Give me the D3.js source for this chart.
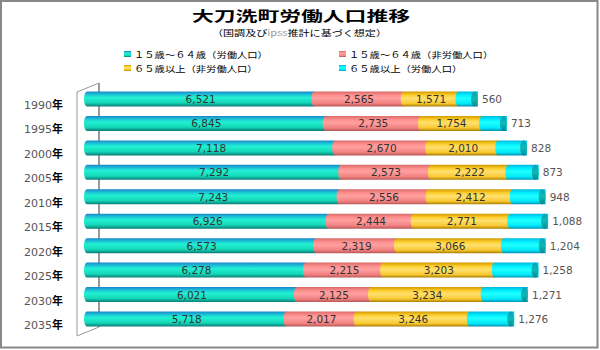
<!DOCTYPE html>
<html><head><meta charset="utf-8">
<script src="https://cdn.jsdelivr.net/npm/d3@7"></script>
<style>body{margin:0;background:#fff}svg{display:block}</style>
</head><body>
<svg id="c" width="600" height="350"></svg>
<script>
const years = ["1990","1995","2000","2005","2010","2015","2020","2025","2030","2035"];
const seriesNames = ["１５歳～６４歳（労働人口）","１５歳～６４歳（非労働人口）","６５歳以上（非労働人口）","６５歳以上（労働人口）"];
const work1564 = [6521,6845,7118,7292,7243,6926,6573,6278,6021,5718];
const nonWork1564 = [2565,2735,2670,2573,2556,2444,2319,2215,2125,2017];
const nonWork65 = [1571,1754,2010,2222,2412,2771,3066,3203,3234,3246];
const work65 = [560,713,828,873,948,1088,1204,1258,1271,1276];
const seriesValues = [work1564, nonWork1564, nonWork65, work65];

const svg = d3.select("#c");
const defs = svg.append("defs");
const grads = [
  [["0","#1b86c9"],["0.22","#1cc8d8"],["0.4","#22f0d2"],["0.75","#14d8b8"],["1","#0a7c78"]],
  [["0","#d86a6a"],["0.25","#ff9090"],["0.45","#ffa0a0"],["0.8","#f08080"],["1","#b85858"]],
  [["0","#d09a00"],["0.25","#ffd030"],["0.45","#ffe070"],["0.8","#f8c830"],["1","#a87c00"]],
  [["0","#00b8e0"],["0.25","#00f0ff"],["0.45","#20ffff"],["0.8","#00e8f8"],["1","#0090b8"]]
];
grads.forEach((g,i)=>{
  const lg = defs.append("linearGradient").attr("id","g"+i).attr("x1",0).attr("y1",0).attr("x2",0).attr("y2",1);
  g.forEach(s=>lg.append("stop").attr("offset",s[0]).attr("stop-color",s[1]));
});
const capG = defs.append("linearGradient").attr("id","cap").attr("x1",0).attr("y1",0).attr("x2",0).attr("y2",1);
capG.append("stop").attr("offset","0").attr("stop-color","#0aa0b0");
capG.append("stop").attr("offset","0.5").attr("stop-color","#10b8b8");
capG.append("stop").attr("offset","1").attr("stop-color","#078888");

// frame
svg.append("rect").attr("x",1).attr("y",1).attr("width",596.5).attr("height",346.5)
  .attr("fill","#fff").attr("stroke","#888").attr("stroke-width",2);

// title
svg.append("text").attr("x",192).attr("y",21)
  .attr("font-family","Noto Sans CJK JP").attr("font-weight","bold").attr("font-size",14)
  .attr("textLength",218).attr("lengthAdjust","spacingAndGlyphs")
  .attr("fill","#000").text("大刀洗町労働人口推移");
const sub = svg.append("text").attr("x",212).attr("y",36)
  .attr("font-family","Noto Sans CJK JP").attr("font-size",8.5).attr("fill","#000")
  .attr("textLength",175).attr("lengthAdjust","spacingAndGlyphs");
sub.append("tspan").text("（国調及び");
sub.append("tspan").attr("fill","#999").text("ipss");
sub.append("tspan").text("推計に基づく想定）");

// legend
const legPos = [[124,54],[339,54],[124,68],[339,68]];
seriesNames.forEach((n,i)=>{
  const g = svg.append("g").attr("transform",`translate(${legPos[i][0]},${legPos[i][1]})`);
  g.append("rect").attr("x",0).attr("y",-3).attr("width",7).attr("height",6).attr("fill",`url(#g${i})`);
  g.append("text").attr("x",10).attr("y",3.5).attr("font-family","Noto Sans CJK JP")
    .attr("font-size",8.5).attr("fill","#000")
    .attr("textLength",n.length*10.3).attr("lengthAdjust","spacingAndGlyphs").text(n);
});

// scales
const x = d3.scaleLinear().domain([0,14000]).range([87,575]);
const y = d3.scalePoint().domain(years).range([99,319]);
const h = 7.5, bulge = 3;

// wall
const wallTop = y.range()[0]-16, wallBot = y.range()[1]+8;
svg.append("line").attr("x1",99).attr("x2",99).attr("y1",wallTop).attr("y2",wallBot)
  .attr("stroke","#999").attr("stroke-width",2);
svg.append("path")
  .attr("d",`M99,${wallTop} L77,${wallTop+9} L77,${wallBot+9} L99,${wallBot}`)
  .attr("fill","none").attr("stroke","#999").attr("stroke-width",1);

// year axis
const yAxis = d3.axisLeft(y).tickSize(0).tickPadding(0).tickFormat(()=> "");
const ax = svg.append("g").attr("transform","translate(63,6)").call(yAxis);
ax.select(".domain").remove();
ax.selectAll(".tick text").each(function(d){
  const t = d3.select(this).attr("x",0).attr("dy","0.35em").attr("text-anchor","end");
  t.append("tspan").attr("font-family","DejaVu Sans").attr("font-size",11).attr("fill","#555").text(d);
  t.append("tspan").attr("font-family","Noto Sans CJK JP").attr("font-size",11).attr("font-weight","bold").attr("fill","#000").text("年");
});

// bars
const rows = years.map((yr,i)=>{
  let acc = 0;
  const segs = seriesValues.map((arr,s)=>{ const v=arr[i]; const o={s,v,x0:acc,x1:acc+v}; acc+=v; return o;});
  return {yr, segs, total:acc};
});
const rowG = svg.selectAll("g.row").data(rows).join("g").attr("class","row");
rowG.each(function(r){
  const g = d3.select(this);
  const cy = y(r.yr);
  r.segs.forEach(sg=>{
    const xa = x(sg.x0), xb = x(sg.x1);
    g.append("path")
      .attr("d",`M${xa},${cy-h} L${xb},${cy-h} L${xb},${cy+h} L${xa},${cy+h} A${bulge},${h} 0 0 1 ${xa},${cy-h} Z`)
      .attr("fill",`url(#g${sg.s})`);
  });
  const end = x(r.total);
  g.append("ellipse").attr("cx",end-3.5).attr("cy",cy).attr("rx",3.5).attr("ry",h)
    .attr("fill","url(#cap)");
  r.segs.forEach(sg=>{
    const xa = x(sg.x0), xb = x(sg.x1);
    const outside = sg.s===3;
    g.append("text")
      .attr("x", outside ? xb+4 : (xa+xb)/2)
      .attr("y", cy+4)
      .attr("text-anchor", outside ? "start" : "middle")
      .attr("font-family","DejaVu Sans").attr("font-size",10.5)
      .attr("fill", outside ? "#555" : "#333")
      .text(d3.format(",")(sg.v));
  });
});
</script>
</body></html>
